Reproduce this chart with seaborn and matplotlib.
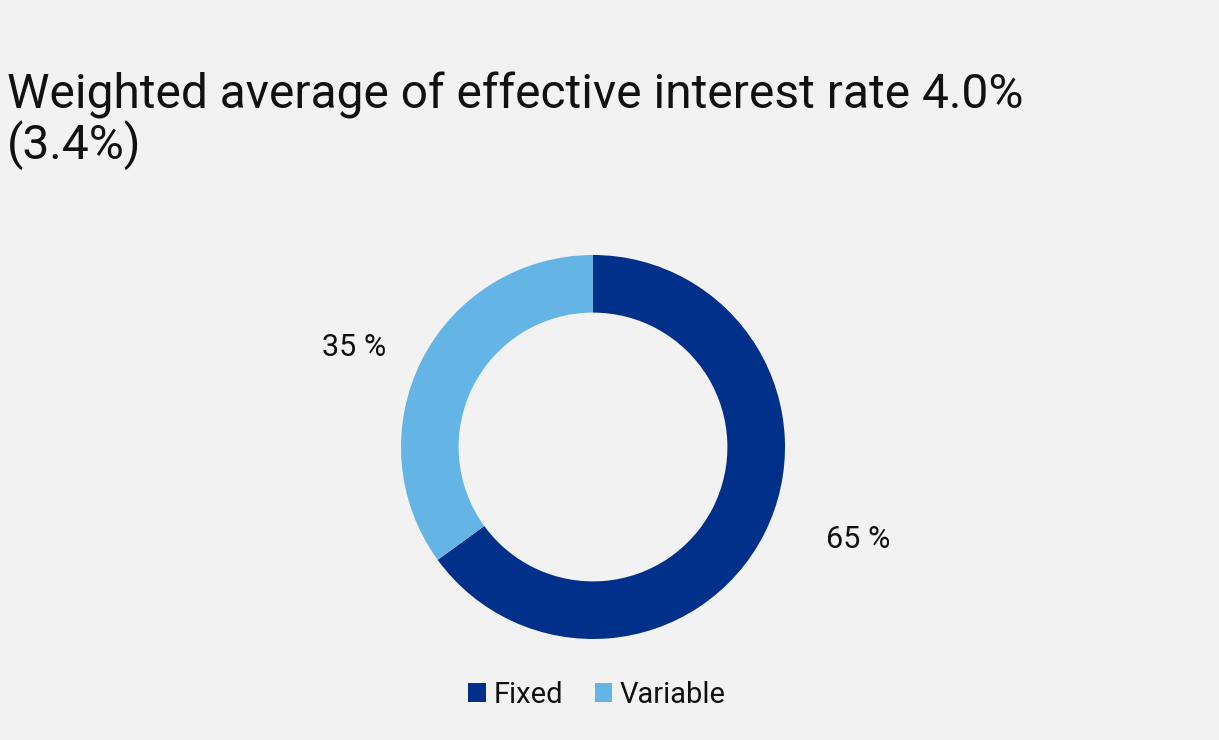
import matplotlib
matplotlib.use("Agg")
import matplotlib.pyplot as plt
import seaborn as sns

# Interest-rate structure of the loan portfolio
categories = ["Fixed", "Variable"]
shares = [65, 35]
colors = ["#00308a", "#64b5e6"]
title = "Weighted average of effective interest rate 4.0%\n(3.4%)"

BG = "#f2f2f2"
sns.set_theme(style="white", rc={"figure.facecolor": BG, "axes.facecolor": BG,
                                 "savefig.facecolor": BG})
plt.rcParams["font.family"] = ["Roboto", "DejaVu Sans"]

W, H = 1219, 740
fig = plt.figure(figsize=(W / 100, H / 100), dpi=100)

# donut axes: centre (593, 447) px, radius 192 px
cx, cy, r = 593, 447, 192
ax = fig.add_axes([(cx - r) / W, (H - cy - r) / H, 2 * r / W, 2 * r / H])
wedges, _ = ax.pie(shares, colors=colors, startangle=90, counterclock=False,
                   radius=1.0, wedgeprops=dict(width=0.30, linewidth=0))
ax.set_xlim(-1, 1)
ax.set_ylim(-1, 1)
ax.set_aspect("equal")
ax.axis("off")

# value labels beside each ring segment
label_pos = {"Fixed": (1.38, -0.48), "Variable": (-1.245, 0.52)}
for cat, val in zip(categories, shares):
    x, y = label_pos[cat]
    ax.text(x, y, f"{val} %", ha="center", va="center", fontsize=22,
            color="#111111", clip_on=False)

fig.text(7 / W, 1 - 72 / H, title, ha="left", va="top", fontsize=34.5,
         color="#111111", linespacing=1.02)

fig.legend(wedges, categories, loc="center", ncol=2, frameon=False,
           bbox_to_anchor=(597 / W, 1 - 695 / H), fontsize=21,
           handlelength=0.6, handleheight=0.6, handletextpad=0.25,
           columnspacing=1.1, labelcolor="#111111")

fig.savefig("out.png", dpi=100)
